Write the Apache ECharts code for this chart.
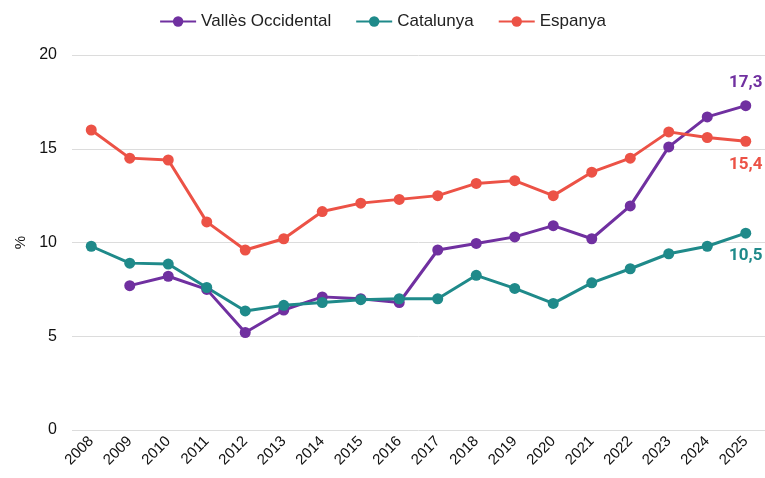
<!DOCTYPE html>
<html>
<head>
<meta charset="utf-8">
<script src="https://cdn.jsdelivr.net/npm/echarts@6/dist/echarts.min.js"></script>
<style>html,body{margin:0;padding:0;background:#fff}#main{width:765px;height:478px}</style>
</head>
<body>
<div id="main"></div>
<script>
var years = ['2008','2009','2010','2011','2012','2013','2014','2015','2016','2017','2018','2019','2020','2021','2022','2023','2024','2025'];
var valles = [null,7.7,8.2,7.5,5.2,6.4,7.1,7.0,6.8,9.6,9.95,10.3,10.9,10.2,11.95,15.1,16.7,17.3];
var catalunya = [9.8,8.9,8.85,7.6,6.35,6.65,6.8,6.95,7.0,7.0,8.25,7.55,6.75,7.85,8.6,9.4,9.8,10.5];
var espanya = [16.0,14.5,14.4,11.1,9.6,10.2,11.65,12.1,12.3,12.5,13.15,13.3,12.5,13.75,14.5,15.9,15.6,15.4];
var yTicks = [0,5,10,15,20];

var colors = {valles:'#7030a0', cat:'#1f8a8a', esp:'#ec5246'};
var font = "'Liberation Sans Narrow', 'Liberation Sans', sans-serif";

function lastLabel(p) {
    return p.dataIndex === years.length - 1 ? String(p.value).replace('.', ',') : '';
}

function mkSeries(name, data, color, pos) {
    return {
        name: name,
        type: 'line',
        data: data,
        symbol: 'circle',
        symbolSize: 11,
        lineStyle: {width: 3, color: color},
        itemStyle: {color: color},
        label: {
            show: true,
            position: pos,
            distance: 9,
            color: color,
            fontWeight: 'bold',
            fontSize: 17,
            fontFamily: 'Roboto',
            formatter: lastLabel
        }
    };
}

var myChart = echarts.init(document.getElementById('main'));
var option = {
    animation: false,
    legend: {
        top: 8,
        left: 'center',
        itemWidth: 36,
        itemHeight: 13,
        itemGap: 24,
        textStyle: {fontFamily: font, fontSize: 17, color: '#222'},
        data: ['Vallès Occidental', 'Catalunya', 'Espanya']
    },
    grid: {left: 72, right: 0, top: 55, bottom: 48},
    xAxis: {
        type: 'category',
        data: years,
        boundaryGap: true,
        axisLine: {show: false},
        axisTick: {show: false},
        axisLabel: {rotate: 45, fontFamily: 'Liberation Sans', fontSize: 15, color: '#111', margin: 9}
    },
    yAxis: {
        type: 'value',
        min: 0,
        max: 20,
        interval: 5,
        name: '%',
        nameLocation: 'middle',
        nameGap: 42,
        nameTextStyle: {fontFamily: 'Liberation Sans', fontSize: 15, color: '#111'},
        axisLabel: {
            fontFamily: 'Liberation Sans', fontSize: 16, color: '#111', margin: 15,
            formatter: function (v) { return yTicks.indexOf(v) >= 0 ? String(v) : ''; }
        },
        splitLine: {lineStyle: {color: '#dcdcdc', width: 1}}
    },
    series: [
        mkSeries('Vallès Occidental', valles, colors.valles, 'top'),
        mkSeries('Catalunya', catalunya, colors.cat, 'bottom'),
        mkSeries('Espanya', espanya, colors.esp, 'bottom')
    ]
};
myChart.setOption(option);
</script>
</body>
</html>
